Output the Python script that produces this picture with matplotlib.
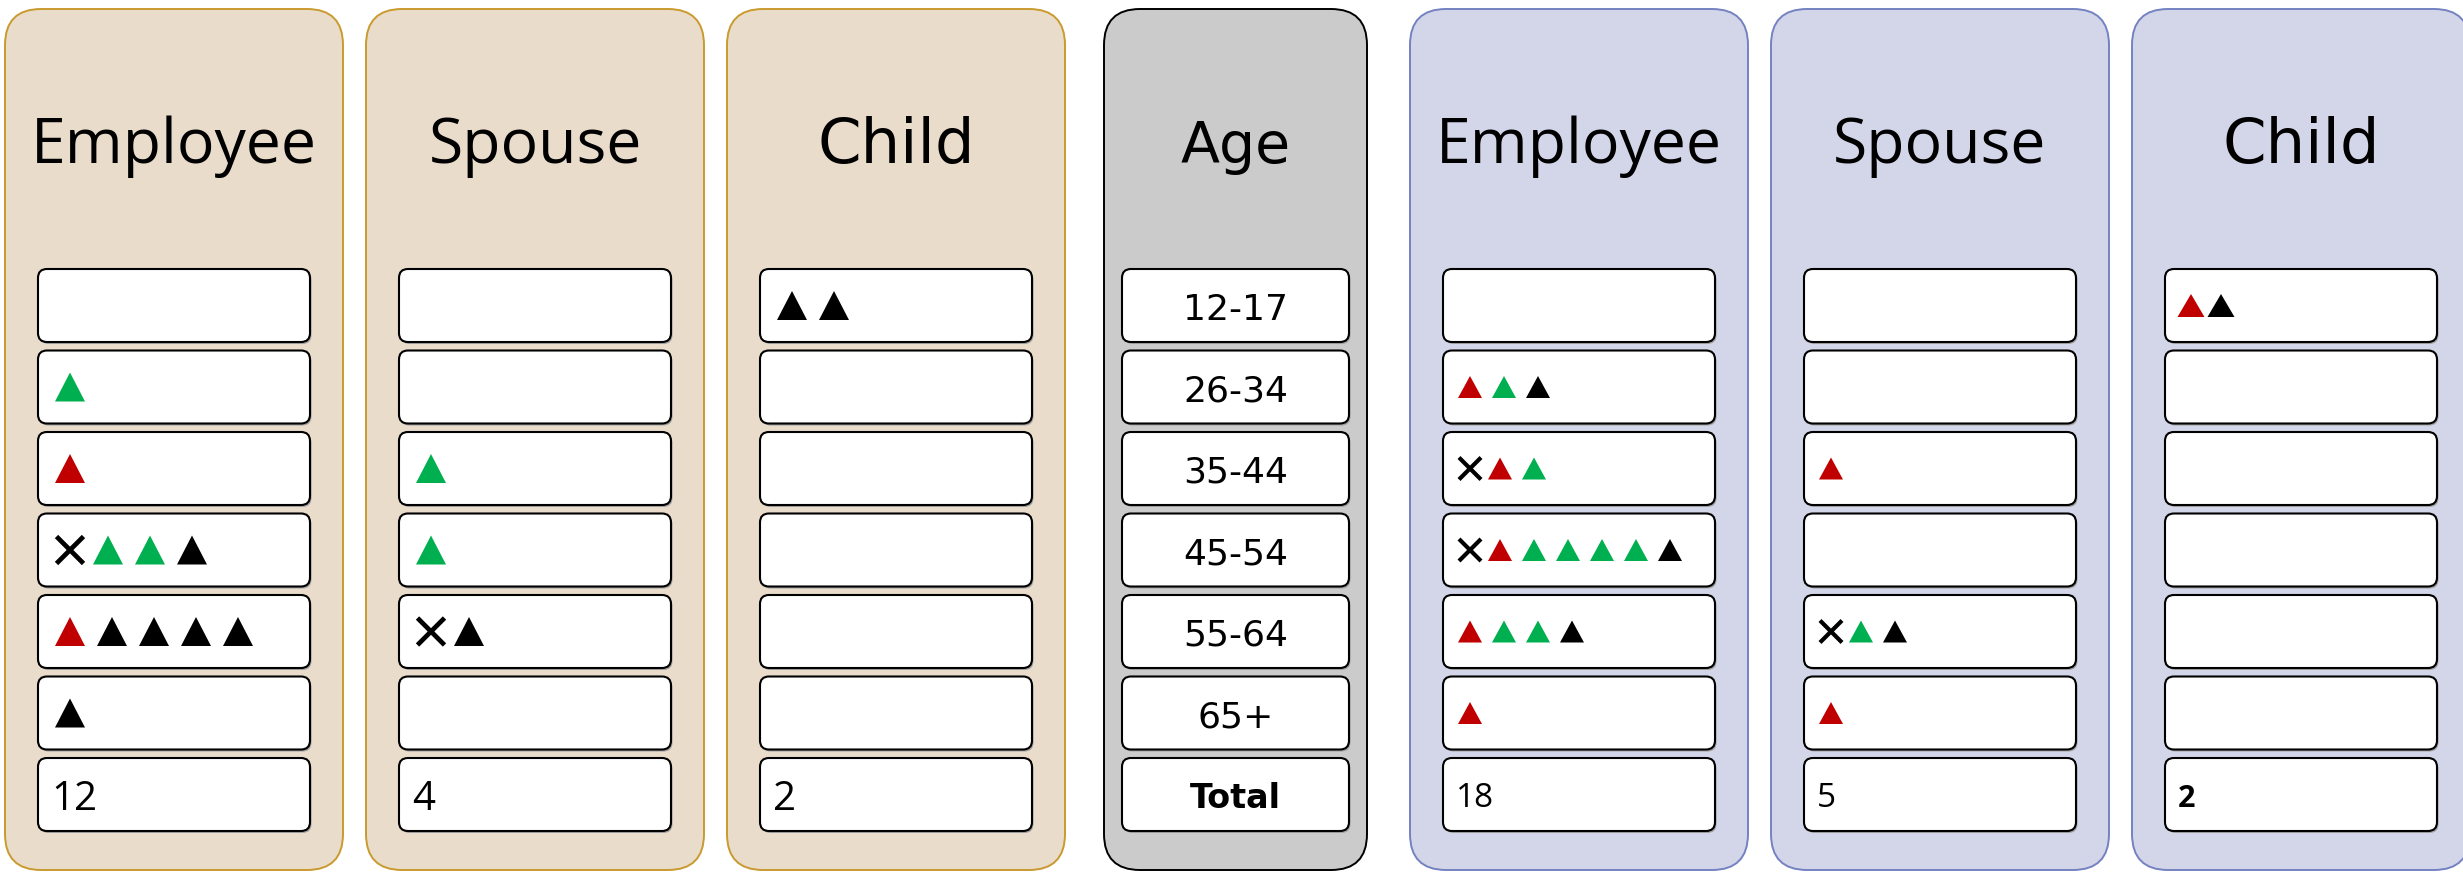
import matplotlib.pyplot as plt
from matplotlib.patches import FancyBboxPatch, Polygon

# each string is one age row; R/G/K = red/green/black triangle, X = cross
left_employee = ["", "G", "R", "XGGK", "RKKKK", "K"]
left_spouse = ["", "", "G", "G", "XK", ""]
left_child = ["KK", "", "", "", "", ""]

right_employee = ["", "RGK", "XRG", "XRGGGGK", "RGGK", "R"]
right_spouse = ["", "", "R", "", "XGK", "R"]
right_child = ["RK", "", "", "", "", ""]

age_groups = ["12-17", "26-34", "35-44", "45-54", "55-64", "65+"]
column_titles = ["Employee", "Spouse", "Child"]

MARK_COLORS = {"R": "#C00000", "G": "#00B050", "K": "#000000"}

W, H = 2463, 872
ROW_TOP = 269
ROW_PITCH = 81.5
ROW_H = 73
N_ROWS = 7

LEFT_STYLE = dict(fill="#EADCCB", edge="#C99A2E", tri_w=30, tri_h=29, pitch=42,
                  x_gap=38, first=32, x_size=27, x_lw=3.4, total_size=29,
                  total_dy=15)
RIGHT_STYLE = dict(fill="#D3D5E8", edge="#7482C2", tri_w=24, tri_h=22, pitch=34,
                   x_gap=30, first=27, x_size=22, x_lw=3.0, total_size=24,
                   total_dy=12)


def rounded_box(ax, x, y, w, h, r, fc, ec, lw, z=1):
    p = FancyBboxPatch((x, y), w, h, boxstyle=f"round,pad=0,rounding_size={r}",
                       fc=fc, ec=ec, lw=lw, zorder=z)
    ax.add_patch(p)
    return p


def draw_row_marks(ax, row, x0, cy, st):
    cx = x0 + st["first"]
    prev = None
    for i, code in enumerate(row):
        if i > 0:
            cx += st["x_gap"] if prev == "X" else st["pitch"]
        if code == "X":
            s = st["x_size"] / 2
            ax.plot([cx - s, cx + s], [cy - s, cy + s], color="black", lw=st["x_lw"],
                    solid_capstyle="butt", zorder=5)
            ax.plot([cx - s, cx + s], [cy + s, cy - s], color="black", lw=st["x_lw"],
                    solid_capstyle="butt", zorder=5)
        else:
            w, h = st["tri_w"], st["tri_h"]
            tri = Polygon([(cx - w / 2, cy + h / 2), (cx + w / 2, cy + h / 2), (cx, cy - h / 2)],
                          closed=True, fc=MARK_COLORS[code], ec="none", zorder=5)
            ax.add_patch(tri)
        prev = code


def draw_column(ax, x, width, title, rows, st, total_bold=False, title_font="Open Sans"):
    rounded_box(ax, x, 9, width, 861, 36, st["fill"], st["edge"], 1.4)
    ax.text(x + width / 2, 163, title, ha="center", va="baseline", fontsize=45,
            family=title_font, color="black", zorder=6)
    bx, bw = x + 33, width - 66
    for i in range(N_ROWS):
        by = ROW_TOP + i * ROW_PITCH
        rounded_box(ax, bx + 1.5, by + 2, bw, ROW_H, 9, "#a0a0a0", "none", 0, z=2)
        rounded_box(ax, bx, by, bw, ROW_H, 9, "white", "black", 1.5, z=3)
        cy = by + ROW_H / 2
        if i < len(rows):
            draw_row_marks(ax, rows[i], bx, cy, st)
        else:
            total = sum(len(r) for r in rows)
            ax.text(bx + 13, cy + st["total_dy"], str(total), ha="left", va="baseline",
                    fontsize=22 if total_bold else st["total_size"],
                    fontweight="bold" if total_bold else "medium",
                    family="Open Sans", zorder=6)


fig = plt.figure(figsize=(W / 100, H / 100), dpi=100)
ax = fig.add_axes([0, 0, 1, 1])
ax.set_xlim(0, W)
ax.set_ylim(H, 0)
ax.axis("off")

panel_w = 338
gap = 23
x = 5
for title, rows in zip(column_titles, [left_employee, left_spouse, left_child]):
    draw_column(ax, x, panel_w, title, rows, LEFT_STYLE,
                title_font="DejaVu Sans" if title == "Child" else "Open Sans")
    x += panel_w + gap

# age column in the middle
age_x, age_w = 1104, 263
rounded_box(ax, age_x, 9, age_w, 861, 36, "#CBCBCB", "black", 1.4)
ax.text(age_x + age_w / 2, 163, "Age", ha="center", va="baseline", fontsize=41,
        family="DejaVu Sans", zorder=6)
for i in range(N_ROWS):
    by = ROW_TOP + i * ROW_PITCH
    bx, bw = age_x + 18, age_w - 36
    rounded_box(ax, bx + 1.5, by + 2, bw, ROW_H, 9, "#a0a0a0", "none", 0, z=2)
    rounded_box(ax, bx, by, bw, ROW_H, 9, "white", "black", 1.5, z=3)
    cy = by + ROW_H / 2
    if i < len(age_groups):
        ax.text(bx + bw / 2, cy + 14, age_groups[i], ha="center", va="baseline",
                fontsize=26, family="DejaVu Sans", zorder=6)
    else:
        ax.text(bx + bw / 2, cy + 13, "Total", ha="center", va="baseline",
                fontsize=24, fontweight="bold", family="DejaVu Sans", zorder=6)

x = 1410
for title, rows in zip(column_titles, [right_employee, right_spouse, right_child]):
    st = RIGHT_STYLE
    if title == "Child":
        st = dict(RIGHT_STYLE, tri_w=27, tri_h=23, pitch=30, first=26)
    draw_column(ax, x, panel_w, title, rows, st, total_bold=(title == "Child"),
                title_font="DejaVu Sans" if title == "Child" else "Open Sans")
    x += panel_w + gap

fig.savefig("out.png", dpi=100)
